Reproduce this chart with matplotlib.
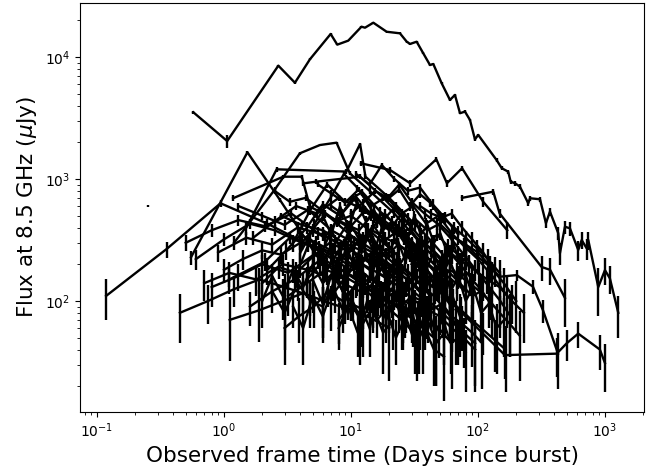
import matplotlib
matplotlib.use("Agg")
import matplotlib.pyplot as plt

# Bright afterglow
tb = [0.573,1.06,2.68,3.62,4.75,6.92,7.80,9.52,12.1,12.9,15.0,19.1,24.3,27.5,29.2,32.9,37.1,41.9,44.5,51.8,60.2,65.9,72.2,79.0,86.5,94.7,100.5,140,154,173,181,196,214,249,257,308,343,369,429,442,484,530,616,656,718,739,886,1000,1094,1273]
fb = [3525,2046,8490,6150,9570,15440,12620,13610,17710,17380,19100,16100,15630,13340,12790,13340,10720,8590,8760,6085,4444,4887,3460,3566,3048,2113,2296,1432,1225,1148,950,922,865,632,695,682,434,540,359,246,406,394,262,316,270,316,130,179,153,80]
eb = [100,250,150,120,150,200,200,200,250,250,250,250,250,200,200,200,180,150,150,120,100,100,80,80,70,60,60,50,50,45,40,40,40,35,35,35,40,40,45,50,50,50,50,50,55,55,55,45,40,30]

# Traced fainter curves
tA = [0.118,0.354,0.94,2.2,4.6,9.5]; fA = [110,267,632,430,290,185]; eA = 40
tB = [0.55,1.53,2.76,5.0,8.0]; fB = [228,1656,673,262,160]; eB = 30
tP = [0.254]; fP = [604]; eP = 12
tC = [1.2,2.5,3.96,5.7,7.7,9.8,14,22,35]; fC = [300,813,1624,1898,1984,1113,800,520,300]; eC = 40
tD = [1.5,2.6,9.2,11.8,13,20,32]; fD = [400,1200,1150,1935,1045,700,420]; eD = 50
tG = [1.18,2.93,4.1,4.75,8,15]; fG = [695,1044,1044,593,450,300]; eG = 40
tH = [4.2,5.3,11.8,18,30]; fH = [920,950,1044,700,400]; eH = 45
tE = [12,20.3,29.2,47,57,75,110,170]; fE = [1344,1185,923,1450,923,1225,650,380]; eE = 60
tI = [75,132,148,317,370,484]; fI = [700,787,523,190,180,106]; eI = 45
tF = [60,163,417,500,616,912,1000]; fF = [100,36,37,45,54,40,31]; eF = 13
tK = [60,100,148,202,271,325,427]; fK = [350,250,158,163,131,84,37]; eK = 18

# Remaining fainter curves
t01 = [1.1,2.1,3.3,5.2,8.0,12.5,19,30]; f01 = [150,210,330,280,240,170,120,80]; e01 = 35
t02 = [0.6,1.0,1.6,2.5,4.1,6.3,9.8,15,25]; f02 = [220,320,430,380,300,520,350,260,150]; e02 = 40
t03 = [2.2,3.1,4.5,6.0,8.2,11,16,23,34,52]; f03 = [180,260,400,620,500,710,450,380,240,150]; e03 = 45
t04 = [3.5,4.8,6.5,9.0,12.3,17,24,35,50,80]; f04 = [300,560,900,650,780,540,400,260,180,120]; e04 = 50
t05 = [0.8,1.3,2.0,3.2,5.1,7.8,12,20]; f05 = [130,160,200,170,240,190,140,95]; e05 = 40
t06 = [5.1,6.9,8.8,11.2,14.5,19,26,38,55]; f06 = [420,700,1100,850,600,720,480,300,200]; e06 = 50
t07 = [1.6,2.4,3.6,5.5,8.4,13,20,31,47]; f07 = [90,120,150,210,180,140,100,70,48]; e07 = 28
t08 = [4.0,5.0,6.2,7.8,10,13,17,22,29,40,60,90]; f08 = [250,380,330,460,410,560,480,350,390,260,170,110]; e08 = 45
t09 = [0.45,0.75,1.2,1.9,3.0,4.8]; f09 = [80,100,125,150,130,110]; e09 = 35
t10 = [1.11,1.9,4.2,7,12,20]; f10 = [70,84,116,95,80,60]; e10 = 38
t11 = [6.5,8.0,9.7,12,15,18,23,29,36,46,60]; f11 = [180,260,350,290,420,310,370,260,200,150,100]; e11 = 45
t12 = [2.8,4.1,6.0,8.8,13,19,28,41,60,95]; f12 = [500,420,380,300,250,190,150,100,70,45]; e12 = 25
t13 = [10,12.5,15.5,19.5,24,30,38,48,62,80,110]; f13 = [520,640,800,700,900,650,520,430,320,230,150]; e13 = 50
t14 = [1.3,2.0,3.0,4.6,7.0,10.5,16,24,36]; f14 = [600,500,420,560,380,300,240,170,120]; e14 = 40
t15 = [7.5,9.2,11.5,14,17.5,22,28,35,45]; f15 = [120,160,210,180,250,200,160,120,85]; e15 = 40
t16 = [3.0,3.9,5.1,6.6,8.6,11.2,14.6,19,25,33]; f16 = [60,75,90,120,100,140,110,90,70,52]; e16 = 30
t17 = [13,16,20,25,31,39,49,62,78,100,130,170]; f17 = [300,450,380,520,600,430,500,360,280,220,160,110]; e17 = 50
t18 = [0.9,1.5,2.4,3.8,6.0,9.5,15,24,38]; f18 = [250,330,290,400,350,270,200,150,100]; e18 = 40
t19 = [20,24,29,35,42,51,62,75,90,110,135]; f19 = [700,820,600,750,640,480,520,400,320,250,180]; e19 = 50
t20 = [5.5,7,9,11.5,14.5,18.5,23.5,30,38]; f20 = [900,760,640,820,560,450,380,290,220]; e20 = 45
t21 = [2.0,2.7,3.7,5.0,6.8,9.2,12.5,17,23,31,42]; f21 = [140,190,170,230,300,260,330,280,210,160,110]; e21 = 40
t22 = [8,10,12.5,15.5,19.5,24.5,31,39,49,62]; f22 = [70,95,85,110,130,105,90,75,60,45]; e22 = 26
t23 = [25,32,40,50,63,80,100,125,160,200]; f23 = [400,470,380,430,340,290,230,190,140,100]; e23 = 45
t24 = [1.7,2.5,3.7,5.4,8.0,11.8,17.5,26,38,56]; f24 = [330,450,600,520,700,580,430,330,240,160]; e24 = 45
t25 = [4.5,5.7,7.2,9.1,11.5,14.6,18.5,23.5,30,38,48,61]; f25 = [150,200,260,230,310,380,330,290,240,190,140,100]; e25 = 40
t26 = [11,14,17.5,22,28,35,44,55,70]; f26 = [1100,900,1300,1000,800,850,620,480,350]; e26 = 60
t27 = [0.5,0.8,1.3,2.1,3.4,5.5,9,14.5]; f27 = [300,380,460,410,520,360,280,200]; e27 = 45
t28 = [16,19,23,27,32,38,45,54,64]; f28 = [160,210,180,240,200,170,140,110,85]; e28 = 40
t29 = [6,7.5,9.3,11.6,14.5,18,22.5,28,35,44,55,69]; f29 = [220,300,420,380,500,460,600,480,390,300,230,160]; e29 = 45
t30 = [30,36,43,52,62,75,90,108,130]; f30 = [250,300,270,220,240,190,150,120,90]; e30 = 40
t31 = [2.5,3.3,4.4,5.8,7.7,10,13.5,18,24]; f31 = [800,650,700,560,450,500,390,300,230]; e31 = 45
t32 = [9,11,13.5,16.5,20,24.5,30,37,45,55,67]; f32 = [100,140,120,170,150,190,160,130,110,85,65]; e32 = 35
t33 = [40,48,58,70,85,102,123,150,180]; f33 = [300,350,280,240,200,165,130,100,75]; e33 = 40
t34 = [3.2,4.5,6.3,8.8,12.3,17.3,24,34]; f34 = [110,140,180,160,130,110,90,65]; e34 = 35
t35 = [14,17,21,26,32,40,50,62,77,95]; f35 = [80,110,95,120,100,85,75,60,50,40]; e35 = 22
t36 = [7,8.5,10.3,12.5,15.2,18.5,22.5,27.3,33,40]; f36 = [600,520,700,560,480,520,410,340,280,220]; e36 = 45
t37 = [18,22,27,33,40,49,60,73,89,110,135,165]; f37 = [120,150,130,160,140,120,100,85,70,58,48,40]; e37 = 22
t38 = [1.0,1.4,2.0,2.8,4.0,5.6,8,11.2,16]; f38 = [180,220,260,240,300,270,220,180,140]; e38 = 40
t39 = [50,60,72,86,103,124,148,178,213]; f39 = [150,180,160,140,120,100,80,65,52]; e39 = 30
t40 = [4,5.3,7,9.3,12.3,16.3,21.6,28.6]; f40 = [350,300,260,230,200,170,140,120]; e40 = 40
t41 = [12,15,18.8,23.5,29.4,36.7,46,57]; f41 = [200,260,230,290,250,220,180,140]; e41 = 40
t42 = [25,30,36,43,52,62,75,90,108]; f42 = [90,110,100,85,95,75,65,55,45]; e42 = 26
t43 = [0.7,1.1,1.8,2.9,4.6,7.4,11.8]; f43 = [140,170,150,200,180,150,120]; e43 = 40
t44 = [35,43,53,65,80,98,120,148]; f44 = [600,520,480,400,330,270,220,170]; e44 = 45
t45 = [60,75,94,118,148,185,230]; f45 = [250,210,180,150,130,100,80]; e45 = 35
t46 = [3.5,4.2,5.0,6.0,7.2,8.6,10.3,12.4,14.9,17.9,21.5]; f46 = [90,60,110,75,130,85,100,65,90,55,70]; e46 = 30
t47 = [5,6,7.2,8.6,10.3,12.4,14.9,17.9,21.5,25.8,31,37]; f47 = [150,95,180,120,210,140,160,100,130,80,95,60]; e47 = 35
t48 = [8,9.5,11.3,13.4,16,19,22.6,26.9,32,38,45,54]; f48 = [60,90,55,100,70,85,50,75,45,60,40,35]; e48 = 20
t49 = [2.4,3.0,3.8,4.8,6,7.5,9.4,11.8,14.8]; f49 = [120,80,140,100,90,150,110,70,95]; e49 = 40
t50 = [10,11.5,13.2,15.2,17.5,20,23,26.5,30.5,35,40]; f50 = [300,200,350,250,400,260,330,220,280,180,200]; e50 = 45
t51 = [15,17,19.5,22,25,28.5,32.5,37,42,48,55,63,72]; f51 = [180,250,140,220,160,260,170,200,130,150,100,110,75]; e51 = 40
t52 = [4,4.8,5.8,7,8.4,10,12,14.5,17.5,21]; f52 = [200,320,240,380,260,420,300,350,240,280]; e52 = 45
t53 = [20,23,26.5,30.5,35,40,46,53,61,70,80]; f53 = [80,120,70,100,60,90,55,70,45,50,38]; e53 = 20
t54 = [6,7,8.2,9.6,11.2,13.1,15.3,17.9,21]; f54 = [500,350,600,400,650,450,550,380,450]; e54 = 50
t55 = [30,34,39,45,52,60,69,79,91,105]; f55 = [200,280,180,250,160,220,140,170,110,120]; e55 = 40
t56 = [2,2.4,2.9,3.5,4.2,5,6,7.2,8.6]; f56 = [100,160,110,180,130,200,140,170,120]; e56 = 40
t57 = [12,14,16.3,19,22,25.6,29.8,34.6,40.2,46.8,54.4]; f57 = [90,60,100,70,110,65,85,50,70,45,55]; e57 = 25
t58 = [40,46,53,61,70,80,92,106,122,140,161]; f58 = [180,130,200,120,160,100,130,80,95,60,70]; e58 = 35
t59 = [7,8,9.2,10.6,12.2,14,16.1,18.5,21.3,24.5]; f59 = [250,170,280,190,310,200,240,160,200,140]; e59 = 40
t60 = [25,28,31.5,35.5,40,45,50.5,57,64,72,81]; f60 = [450,320,500,350,420,300,360,250,300,200,230]; e60 = 45

curves = [(tb, fb, eb), (tA, fA, eA), (tB, fB, eB), (tP, fP, eP), (tC, fC, eC),
          (tD, fD, eD), (tG, fG, eG), (tH, fH, eH), (tE, fE, eE), (tI, fI, eI),
          (tF, fF, eF), (tK, fK, eK),
          (t01, f01, e01), (t02, f02, e02), (t03, f03, e03), (t04, f04, e04),
          (t05, f05, e05), (t06, f06, e06), (t07, f07, e07), (t08, f08, e08),
          (t09, f09, e09), (t10, f10, e10), (t11, f11, e11), (t12, f12, e12),
          (t13, f13, e13), (t14, f14, e14), (t15, f15, e15), (t16, f16, e16),
          (t17, f17, e17), (t18, f18, e18), (t19, f19, e19), (t20, f20, e20),
          (t21, f21, e21), (t22, f22, e22), (t23, f23, e23), (t24, f24, e24),
          (t25, f25, e25), (t26, f26, e26), (t27, f27, e27), (t28, f28, e28),
          (t29, f29, e29), (t30, f30, e30), (t31, f31, e31), (t32, f32, e32),
          (t33, f33, e33), (t34, f34, e34), (t35, f35, e35), (t36, f36, e36),
          (t37, f37, e37), (t38, f38, e38), (t39, f39, e39), (t40, f40, e40),
          (t41, f41, e41), (t42, f42, e42), (t43, f43, e43), (t44, f44, e44),
          (t45, f45, e45), (t46, f46, e46), (t47, f47, e47), (t48, f48, e48),
          (t49, f49, e49), (t50, f50, e50), (t51, f51, e51), (t52, f52, e52),
          (t53, f53, e53), (t54, f54, e54), (t55, f55, e55), (t56, f56, e56),
          (t57, f57, e57), (t58, f58, e58), (t59, f59, e59), (t60, f60, e60)]

fig = plt.figure(figsize=(6.56, 4.70), dpi=100)
ax = fig.add_axes([80/656, 1-412/470, 564/656, 409/470])
for t, f, e in curves:
    ax.errorbar(t, f, yerr=e, color='k', lw=1.7, elinewidth=1.7, capsize=0)
ax.set_xscale('log')
ax.set_yscale('log')
ax.set_xlim(0.0735, 2030)
ax.set_ylim(12.3, 27700)
ax.set_xlabel('Observed frame time (Days since burst)', fontsize=15.5)
ax.set_ylabel('Flux at 8.5 GHz ($\\mu$Jy)', fontsize=15.5)
fig.savefig('out.png', dpi=100)
